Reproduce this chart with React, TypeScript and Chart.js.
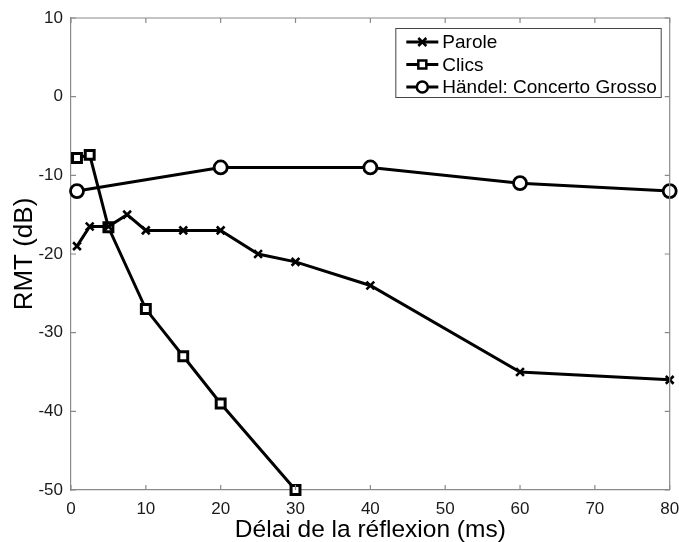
import React, { useEffect, useRef } from "react";
import { Chart, registerables } from "chart.js";

Chart.register(...registerables);

const seriesNames = ["Parole", "Clics", "Händel: Concerto Grosso"];
const paroleX = [0.8, 2.5, 5, 7.5, 10, 15, 20, 25, 30, 40, 60, 80];
const paroleY = [-19, -16.5, -16.5, -15, -17, -17, -17, -20, -21, -24, -35, -36];
const clicsX = [0.8, 2.5, 5, 10, 15, 20, 30];
const clicsY = [-7.8, -7.4, -16.6, -27, -33, -39, -50];
const handelX = [0.8, 20, 40, 60, 80];
const handelY = [-12, -9, -9, -11, -12];
const xTicks = [0, 10, 20, 30, 40, 50, 60, 70, 80];
const yTicks = [-50, -40, -30, -20, -10, 0, 10];
const xTitle = "Délai de la réflexion (ms)";
const yTitle = "RMT (dB)";

const FONT = "'Liberation Sans', Arial, Helvetica, sans-serif";

const toPoints = (xs: number[], ys: number[]) => xs.map((x, i) => ({ x, y: ys[i] }));

const frameTicksPlugin = {
  id: "frameTicks",
  afterDatasetsDraw(chart: any) {
    const { ctx, chartArea, scales } = chart;
    const { left, right, top, bottom } = chartArea;
    ctx.save();
    ctx.strokeStyle = "#8a8a8a";
    ctx.lineWidth = 1.2;
    ctx.beginPath();
    ctx.moveTo(left, top);
    ctx.lineTo(right, top);
    ctx.lineTo(right, bottom);
    ctx.stroke();
    const len = 5;
    ctx.beginPath();
    scales.x.ticks.forEach((t: any) => {
      const px = scales.x.getPixelForValue(t.value);
      ctx.moveTo(px, bottom);
      ctx.lineTo(px, bottom - len);
      ctx.moveTo(px, top);
      ctx.lineTo(px, top + len);
    });
    scales.y.ticks.forEach((t: any) => {
      const py = scales.y.getPixelForValue(t.value);
      ctx.moveTo(left, py);
      ctx.lineTo(left + len, py);
      ctx.moveTo(right, py);
      ctx.lineTo(right - len, py);
    });
    ctx.stroke();
    ctx.restore();
  },
};

const legendPlugin = {
  id: "boxLegend",
  afterDraw(chart: any) {
    const { ctx, chartArea } = chart;
    const boxRight = chartArea.right - 9;
    const boxTop = chartArea.top + 10;
    const rowH = 22.5;
    ctx.save();
    ctx.font = `19px ${FONT}`;
    const textW = Math.max(...seriesNames.map((n) => ctx.measureText(n).width));
    const sampleW = 32;
    const boxW = 11 + sampleW + 4 + textW + 4;
    const boxH = 69;
    const boxLeft = boxRight - boxW;
    ctx.fillStyle = "#fff";
    ctx.fillRect(boxLeft, boxTop, boxW, boxH);
    ctx.strokeStyle = "#444";
    ctx.lineWidth = 1;
    ctx.strokeRect(boxLeft + 0.5, boxTop + 0.5, boxW, boxH);
    seriesNames.forEach((name, i) => {
      const cy = boxTop + 14 + i * rowH;
      const x0 = boxLeft + 11;
      const cx = x0 + sampleW / 2;
      ctx.strokeStyle = "#000";
      ctx.lineWidth = 3;
      ctx.beginPath();
      ctx.moveTo(x0, cy);
      ctx.lineTo(x0 + sampleW, cy);
      ctx.stroke();
      ctx.lineWidth = 2.5;
      if (i === 0) {
        const r = 4;
        ctx.beginPath();
        ctx.moveTo(cx - r, cy - r);
        ctx.lineTo(cx + r, cy + r);
        ctx.moveTo(cx - r, cy + r);
        ctx.lineTo(cx + r, cy - r);
        ctx.stroke();
      } else if (i === 1) {
        ctx.fillStyle = "#fff";
        ctx.fillRect(cx - 4, cy - 4, 8, 8);
        ctx.strokeRect(cx - 4, cy - 4, 8, 8);
      } else {
        ctx.fillStyle = "#fff";
        ctx.beginPath();
        ctx.arc(cx, cy, 5.5, 0, Math.PI * 2);
        ctx.fill();
        ctx.stroke();
      }
      ctx.fillStyle = "#000";
      ctx.textBaseline = "middle";
      ctx.textAlign = "left";
      ctx.fillText(name, x0 + sampleW + 4, cy + 1);
    });
    ctx.restore();
  },
};

export default function App() {
  const canvasRef = useRef<HTMLCanvasElement | null>(null);

  useEffect(() => {
    const canvas = canvasRef.current;
    if (!canvas) return;
    const common = {
      borderColor: "#000",
      backgroundColor: "#fff",
      borderWidth: 3,
      pointBorderColor: "#000",
      pointBackgroundColor: "#fff",
      pointBorderWidth: 3,
      showLine: true,
      tension: 0,
    };
    const chart = new Chart(canvas, {
      type: "scatter",
      data: {
        datasets: [
          {
            ...common,
            label: seriesNames[0],
            data: toPoints(paroleX, paroleY),
            pointStyle: "crossRot",
            pointRadius: 5.5,
            pointBorderWidth: 2.6,
          },
          {
            ...common,
            label: seriesNames[1],
            data: toPoints(clicsX, clicsY),
            pointStyle: "rect",
            pointRadius: 6.3,
          },
          {
            ...common,
            label: seriesNames[2],
            data: toPoints(handelX, handelY),
            pointStyle: "circle",
            pointRadius: 6.5,
            pointBorderWidth: 2.8,
          },
        ],
      },
      options: {
        animation: false,
        responsive: false,
        clip: false as any,
        layout: { padding: { top: 18, right: 9, left: 0, bottom: 0 } },
        plugins: {
          legend: { display: false },
          tooltip: { enabled: false },
        },
        scales: {
          x: {
            type: "linear",
            min: 0,
            max: 80,
            grid: { display: false, drawTicks: false },
            border: { display: true, color: "#8a8a8a", width: 1.2 },
            afterBuildTicks: (s: any) => {
              s.ticks = xTicks.map((v) => ({ value: v }));
            },
            afterFit: (s: any) => {
              s.height = 52;
              s.paddingLeft = 0;
              s.paddingRight = 0;
            },
            ticks: {
              color: "#1a1a1a",
              padding: 9,
              maxRotation: 0,
              autoSkip: false,
              font: { family: FONT, size: 17 },
              callback: (v: any) => String(v),
            },
            title: {
              display: true,
              text: xTitle,
              color: "#000",
              font: { family: FONT, size: 24.5, lineHeight: 1 },
              padding: { top: 0, bottom: 0 },
            },
          },
          y: {
            type: "linear",
            min: -50,
            max: 10,
            grid: { display: false, drawTicks: false },
            border: { display: true, color: "#8a8a8a", width: 1.2 },
            afterBuildTicks: (s: any) => {
              s.ticks = yTicks.map((v) => ({ value: v }));
            },
            afterFit: (s: any) => {
              s.width = 71;
              s.paddingTop = 0;
              s.paddingBottom = 0;
            },
            ticks: {
              color: "#1a1a1a",
              padding: 8,
              autoSkip: false,
              font: { family: FONT, size: 17 },
              callback: (v: any) => String(v),
            },
            title: {
              display: true,
              text: yTitle,
              color: "#000",
              font: { family: FONT, size: 26 },
              padding: { top: 9, bottom: 0 },
            },
          },
        },
      },
      plugins: [frameTicksPlugin, legendPlugin],
    });
    return () => chart.destroy();
  }, []);

  return (
    <div style={{ position: "fixed", left: 0, top: 0, width: 679, height: 542, background: "#fff" }}>
      <canvas ref={canvasRef} width={679} height={542} style={{ display: "block" }} />
    </div>
  );
}
